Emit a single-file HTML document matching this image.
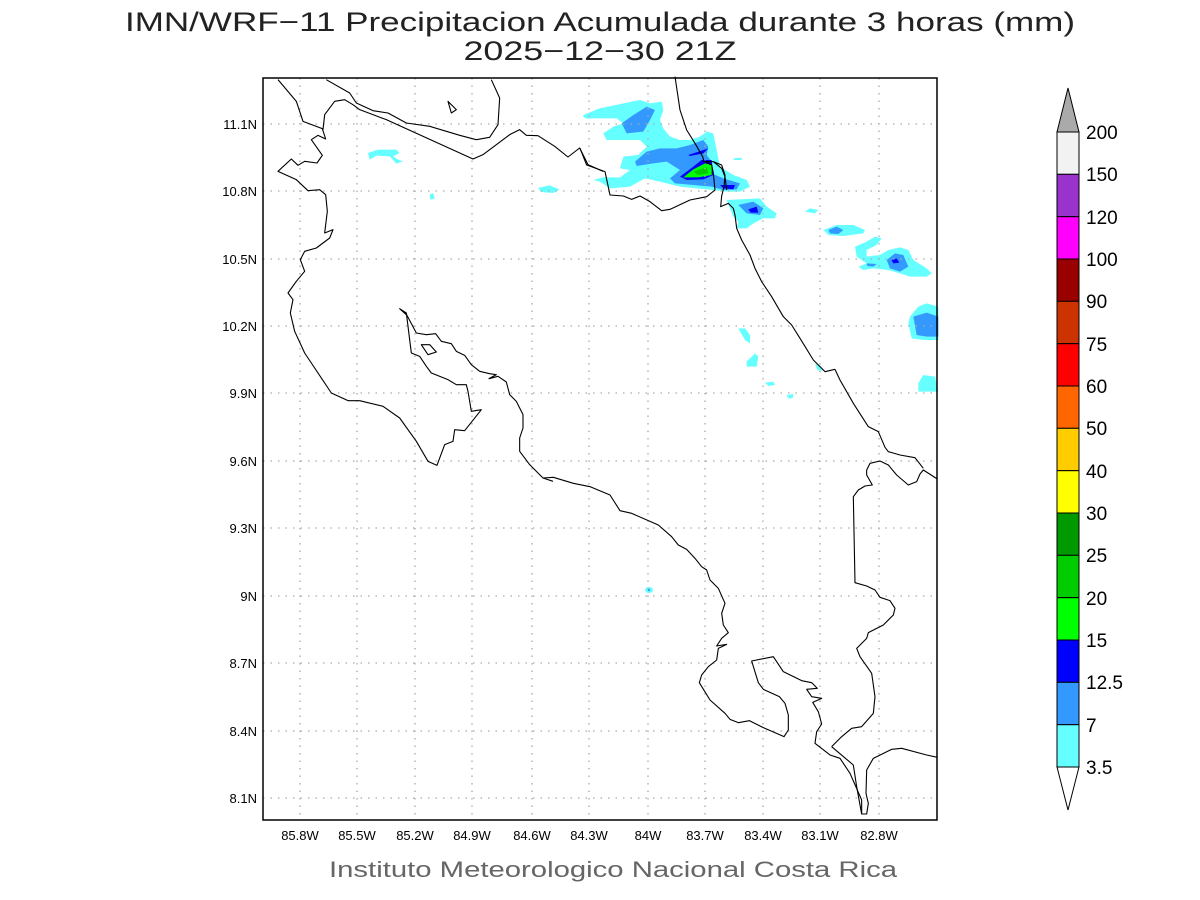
<!DOCTYPE html>
<html><head><meta charset="utf-8"><style>
html,body{margin:0;padding:0;background:#fff;}
svg{display:block;}
text{font-family:"Liberation Sans","DejaVu Sans",sans-serif;}
</style></head><body>
<svg width="1200" height="900" viewBox="0 0 1200 900" xmlns="http://www.w3.org/2000/svg">
<rect width="1200" height="900" fill="#fff"/>
<text x="600" y="31" font-size="27" text-anchor="middle" textLength="950" lengthAdjust="spacingAndGlyphs" fill="#222">IMN/WRF−11 Precipitacion Acumulada durante 3 horas (mm)</text>
<text x="600" y="60" font-size="27" text-anchor="middle" textLength="273" lengthAdjust="spacingAndGlyphs" fill="#222">2025−12−30 21Z</text>

<g transform="translate(580,90) scale(0.33333)">
<polygon fill="#66FFFF" points="10,75 60,55 130,40 180,30 210,40 245,35 250,60 240,90 250,115 270,140 300,150 330,150 360,140 380,125 400,130 410,180 420,230 460,255 500,270 510,290 480,305 440,305 400,300 350,295 300,290 260,280 240,275 195,265 150,290 90,295 60,275 40,270 70,262 120,262 150,240 120,235 130,200 175,195 200,170 180,150 140,150 80,150 70,130 100,110 130,100 110,85 60,85 10,80"/>
<polygon fill="#3399FF" points="125,100 160,75 200,50 225,60 210,90 190,125 140,130"/>
<polygon fill="#3399FF" points="165,215 200,185 240,175 290,175 330,165 370,150 385,170 380,195 395,215 395,250 430,265 480,280 470,298 430,300 395,290 340,285 285,280 270,265 300,240 260,215 220,220 170,228"/>
<polygon fill="#0000FF" points="300,260 340,230 365,210 395,210 400,255 370,268 320,270"/>
<polygon fill="#0000FF" points="325,195 385,175 370,190 330,198"/>
<polygon fill="#0000FF" points="420,285 465,285 460,298 430,295"/>
<polygon fill="#00FF00" points="310,262 340,238 375,220 395,225 395,255 355,262"/>
<polygon fill="#00CC00" points="340,245 380,232 385,250 355,255"/>
<polygon fill="#66FFFF" points="440,330 540,325 560,350 590,370 585,385 550,385 520,400 500,415 470,415 475,395 460,380"/>
<polygon fill="#3399FF" points="475,345 520,335 550,355 540,375 500,370"/>
<polygon fill="#0000FF" points="505,358 530,350 535,368 512,368"/>
<polygon fill="#66FFFF" points="675,365 690,355 715,360 705,370"/>
<polygon fill="#66FFFF" points="460,205 485,203 485,210 462,210"/>
<polygon fill="#66FFFF" points="730,420 770,405 820,405 855,420 850,430 790,438 745,435"/>
<polygon fill="#3399FF" points="745,420 770,410 790,420 775,432 750,430"/>
<polygon fill="#66FFFF" points="825,470 860,455 885,440 905,445 890,465 860,480 860,500 900,495 925,480 960,472 985,480 1000,510 1040,535 1055,550 1040,560 990,560 960,550 925,540 880,535 850,540 835,530 860,520 830,500"/>
<polygon fill="#3399FF" points="920,510 945,490 970,495 985,530 960,545 930,535"/>
<polygon fill="#0000FF" points="935,510 950,505 958,518 940,520"/>
<polygon fill="#3399FF" points="860,520 890,522 880,530 862,528"/>
<polygon fill="#66FFFF" points="990,680 1015,650 1040,640 1075,650 1075,750 1030,750 995,745 985,700"/>
<polygon fill="#3399FF" points="1000,680 1040,668 1075,680 1075,740 1040,740 1010,735"/>
<polygon fill="#66FFFF" points="475,715 495,715 510,735 510,760 495,750"/>
<polygon fill="#66FFFF" points="500,815 525,790 535,800 530,830 500,830"/>
<polygon fill="#66FFFF" points="555,878 580,875 585,885 565,888"/>
<polygon fill="#66FFFF" points="620,915 640,912 638,925 625,925"/>
<polygon fill="#66FFFF" points="1015,880 1030,855 1065,860 1075,905 1015,905"/>
<polygon fill="#66FFFF" points="705,820 720,830 728,842 712,840"/>
</g>
<g transform="translate(263,78) scale(0.33333)">
<polygon fill="#66FFFF" points="315,225 345,215 400,215 410,225 390,235 405,245 420,250 400,257 380,235 340,233 320,245"/>
<polygon fill="#66FFFF" points="825,330 860,322 890,335 870,345 835,342"/>
<polygon fill="#66FFFF" points="500,350 510,345 515,362 502,365"/>
<polygon fill="#66FFFF" points="960,115 1000,95 1020,88 1020,120 970,122"/>
<polygon fill="#66FFFF" points="995,305 1020,300 1020,310"/>
</g>
<ellipse cx="649" cy="590" rx="4" ry="3" fill="#66FFFF"/>
<circle cx="649" cy="590" r="1.2" fill="#3399FF"/>

<g stroke="#aaa" stroke-width="1.3" stroke-dasharray="1.5,6">
<line x1="300" y1="78" x2="300" y2="820"/><line x1="357" y1="78" x2="357" y2="820"/><line x1="415" y1="78" x2="415" y2="820"/><line x1="472" y1="78" x2="472" y2="820"/><line x1="532" y1="78" x2="532" y2="820"/><line x1="589" y1="78" x2="589" y2="820"/><line x1="648" y1="78" x2="648" y2="820"/><line x1="705" y1="78" x2="705" y2="820"/><line x1="763" y1="78" x2="763" y2="820"/><line x1="820" y1="78" x2="820" y2="820"/><line x1="879" y1="78" x2="879" y2="820"/>
<line x1="263" y1="124" x2="937" y2="124"/><line x1="263" y1="191" x2="937" y2="191"/><line x1="263" y1="259" x2="937" y2="259"/><line x1="263" y1="326" x2="937" y2="326"/><line x1="263" y1="393" x2="937" y2="393"/><line x1="263" y1="461" x2="937" y2="461"/><line x1="263" y1="528" x2="937" y2="528"/><line x1="263" y1="596" x2="937" y2="596"/><line x1="263" y1="663" x2="937" y2="663"/><line x1="263" y1="731" x2="937" y2="731"/><line x1="263" y1="798" x2="937" y2="798"/>
</g>

<g transform="translate(263,78) scale(0.33333)" fill="none" stroke="#000" stroke-width="3.3" stroke-linejoin="round">
<polyline points="45,5 100,70 120,130 178,152 188,183 165,172 145,185 178,232 162,255 125,250 105,262 85,243 45,280 100,305 135,338 170,335 188,350 193,400 185,465 210,455 200,480 160,510 125,520 112,545 125,580 100,610 75,645 90,665 82,705 95,760 125,825 205,945 255,968 290,968 360,985 410,1020 460,1090 495,1150 522,1162 545,1100 570,1090 575,1055 605,1058 655,995 625,1000 615,940 610,920 580,920 555,905 505,885 490,865 470,835 445,825 430,705 410,692 432,712 460,765 490,770 518,767 535,790 565,797 580,820 605,832 625,860 650,880 680,887 700,890 678,902 705,895 730,912 740,950 760,970 780,1010 780,1050 770,1080 770,1120 800,1160 840,1200 870,1210"/>
<polyline points="180,155 185,110 215,70 245,65 270,80 290,95 370,125 630,243 660,230 700,200 740,170 770,155 790,172 825,173 875,205 915,237 950,210 975,260 1020,280"/>
<polyline points="190,5 260,45 280,75 330,98 375,105 430,135 500,145 550,160 590,172 640,185 680,178 705,140 710,60 685,5"/>
<polygon points="555,70 565,105 580,95"/>
<polygon points="475,800 500,800 520,822 495,830"/>
</g>
<g transform="translate(480,360) scale(0.33333)" fill="none" stroke="#000" stroke-width="3.3" stroke-linejoin="round">
<polyline points="189,354 220,352 280,370 330,380 390,405 420,452 455,460 535,495 575,530 595,555 620,568 645,595 665,620 680,630 690,660 715,685 735,730 725,760 730,795 745,818 725,835 710,858 740,853 715,865 710,900 685,920 665,945 658,968 690,1020 735,1060 750,1078 775,1088 808,1082 850,1103 912,1130 925,1110 925,1065 915,1030 898,1010 850,988 835,968 815,903 880,890 910,935 965,962 995,968 1012,985 980,988 995,1010 1025,1015 998,1027 1015,1055 1025,1092 1010,1115 1005,1150 1050,1185 1080,1195 1110,1240 1145,1320 1145,1362 1160,1362 1165,1330 1158,1300 1160,1230 1180,1195 1235,1168 1265,1165 1340,1185 1372,1192"/>
<polyline points="1055,1160 1085,1130 1115,1105 1145,1100 1180,1060 1185,1010 1175,940 1140,890 1130,865 1160,835 1165,818 1210,795 1240,765 1245,745 1230,722 1200,712 1185,690 1160,678 1125,668 1120,410 1135,390 1155,378 1177,375 1160,345 1160,330 1170,310 1200,303 1225,315 1250,345 1285,375 1310,365 1320,342 1330,330 1372,357"/>
<polyline points="1055,1160 1120,1215 1130,1280 1145,1362"/>
<polyline points="1330,325 1305,293 1260,285 1225,275 1215,262 1195,215 1165,200 1120,130 1080,60 1065,28"/>
</g>
<g transform="translate(580,90) scale(0.33333)" fill="none" stroke="#000" stroke-width="3.3" stroke-linejoin="round">
<polyline points="285,-40 300,60 320,120 345,160 368,200 372,215 400,215 425,235 435,260 440,300"/>
<polyline points="0,175 20,225 75,245 90,315 130,318 155,328 180,318 210,335 245,362 270,358 330,330 380,320 405,300 400,250 395,225 375,215"/>
<polyline points="400,215 425,225 435,255 432,290 425,318 422,350 445,340 460,355 465,375 470,415 485,450 510,495 525,535 545,575 575,620 610,680 635,705 660,745 700,810 735,845 765,838"/>
</g>

<rect x="263" y="78" width="674" height="742" fill="none" stroke="#000" stroke-width="1.5"/>

<g font-size="13" fill="#000" text-anchor="end">
<text x="257" y="129">11.1N</text><text x="257" y="196">10.8N</text><text x="257" y="264">10.5N</text><text x="257" y="331">10.2N</text><text x="257" y="398">9.9N</text><text x="257" y="466">9.6N</text><text x="257" y="533">9.3N</text><text x="257" y="601">9N</text><text x="257" y="668">8.7N</text><text x="257" y="736">8.4N</text><text x="257" y="803">8.1N</text>
</g>
<g font-size="13" fill="#000" text-anchor="middle">
<text x="300" y="840">85.8W</text><text x="357" y="840">85.5W</text><text x="415" y="840">85.2W</text><text x="472" y="840">84.9W</text><text x="532" y="840">84.6W</text><text x="589" y="840">84.3W</text><text x="648" y="840">84W</text><text x="705" y="840">83.7W</text><text x="763" y="840">83.4W</text><text x="820" y="840">83.1W</text><text x="879" y="840">82.8W</text>
</g>
<text x="613" y="877" font-size="22" text-anchor="middle" textLength="568" lengthAdjust="spacingAndGlyphs" fill="#666">Instituto Meteorologico Nacional Costa Rica</text>

<g stroke="#000" stroke-width="1">
<polygon points="1057,132 1068,88 1079,132" fill="#aaaaaa"/>
<rect x="1057" y="132" width="22" height="42.33" fill="#F2F2F2"/>
<rect x="1057" y="174.3" width="22" height="42.33" fill="#9933CC"/>
<rect x="1057" y="216.7" width="22" height="42.33" fill="#FF00FF"/>
<rect x="1057" y="259" width="22" height="42.33" fill="#990000"/>
<rect x="1057" y="301.3" width="22" height="42.33" fill="#CC3300"/>
<rect x="1057" y="343.7" width="22" height="42.33" fill="#FF0000"/>
<rect x="1057" y="386" width="22" height="42.33" fill="#FF6600"/>
<rect x="1057" y="428.3" width="22" height="42.33" fill="#FFCC00"/>
<rect x="1057" y="470.7" width="22" height="42.33" fill="#FFFF00"/>
<rect x="1057" y="513" width="22" height="42.33" fill="#009900"/>
<rect x="1057" y="555.3" width="22" height="42.33" fill="#00CC00"/>
<rect x="1057" y="597.7" width="22" height="42.33" fill="#00FF00"/>
<rect x="1057" y="640" width="22" height="42.33" fill="#0000FF"/>
<rect x="1057" y="682.3" width="22" height="42.33" fill="#3399FF"/>
<rect x="1057" y="724.7" width="22" height="42.33" fill="#66FFFF"/>
<polygon points="1057,767 1068,810 1079,767" fill="#fff"/>
</g>
<g font-size="19" fill="#000">
<text x="1086" y="139">200</text><text x="1086" y="181">150</text><text x="1086" y="224">120</text><text x="1086" y="266">100</text><text x="1086" y="308">90</text><text x="1086" y="351">75</text><text x="1086" y="393">60</text><text x="1086" y="435">50</text><text x="1086" y="478">40</text><text x="1086" y="520">30</text><text x="1086" y="562">25</text><text x="1086" y="605">20</text><text x="1086" y="647">15</text><text x="1086" y="689">12.5</text><text x="1086" y="732">7</text><text x="1086" y="774">3.5</text>
</g>
</svg>
</body></html>
